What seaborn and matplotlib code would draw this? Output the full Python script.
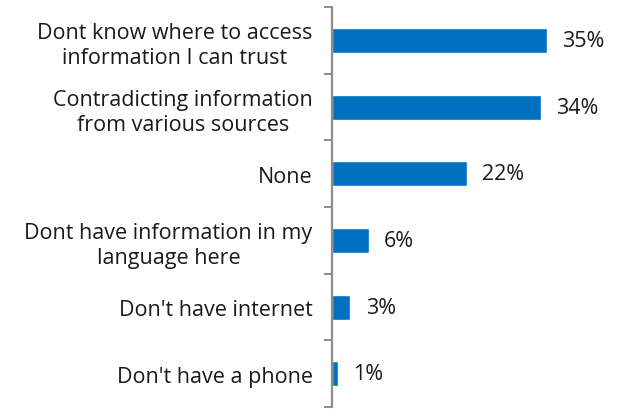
import matplotlib
matplotlib.use("Agg")
import matplotlib.pyplot as plt
import seaborn as sns
import pandas as pd

categories = [
    "Dont know where to access\ninformation I can trust",
    "Contradicting information\nfrom various sources",
    "None",
    "Dont have information in my\nlanguage here",
    "Don't have internet",
    "Don't have a phone",
]
values = [35, 34, 22, 6, 3, 1]

sns.set_style("white")
plt.rcParams["font.family"] = ["Open Sans", "DejaVu Sans"]

df = pd.DataFrame({"category": categories, "value": values})

fig = plt.figure(figsize=(6.24, 4.10), dpi=100)
ax = fig.add_axes([332 / 624, 2 / 410, 292 / 624, 400 / 410])

sns.barplot(data=df, y="category", x="value", orient="h", color="#0070C0",
            saturation=1, width=0.375, ax=ax)

ax.set_xlim(0, 292 / 6.14)
ax.set_ylim(len(categories) - 0.5, -0.5)
ax.set_xlabel("")
ax.set_ylabel("")
ax.set_xticks([])

for side in ["top", "right", "bottom"]:
    ax.spines[side].set_visible(False)
ax.spines["left"].set_color("#8c8c8c")
ax.spines["left"].set_linewidth(1.6)

# category boundary ticks on the left of the axis
ax.set_yticks([i - 0.5 for i in range(len(categories) + 1)], minor=True)
ax.tick_params(axis="y", which="minor", length=6, width=1.4, color="#8c8c8c",
               direction="out", left=True)
ax.tick_params(axis="y", which="major", length=0, pad=14, labelsize=15.5,
               labelcolor="#1a1a1a")
for lbl in ax.get_yticklabels():
    lbl.set_multialignment("center")
    lbl.set_linespacing(1.25)

ax.bar_label(ax.containers[0], fmt="%g%%", padding=11, fontsize=15.5,
             color="#1a1a1a")

fig.savefig("out.png", dpi=100)
